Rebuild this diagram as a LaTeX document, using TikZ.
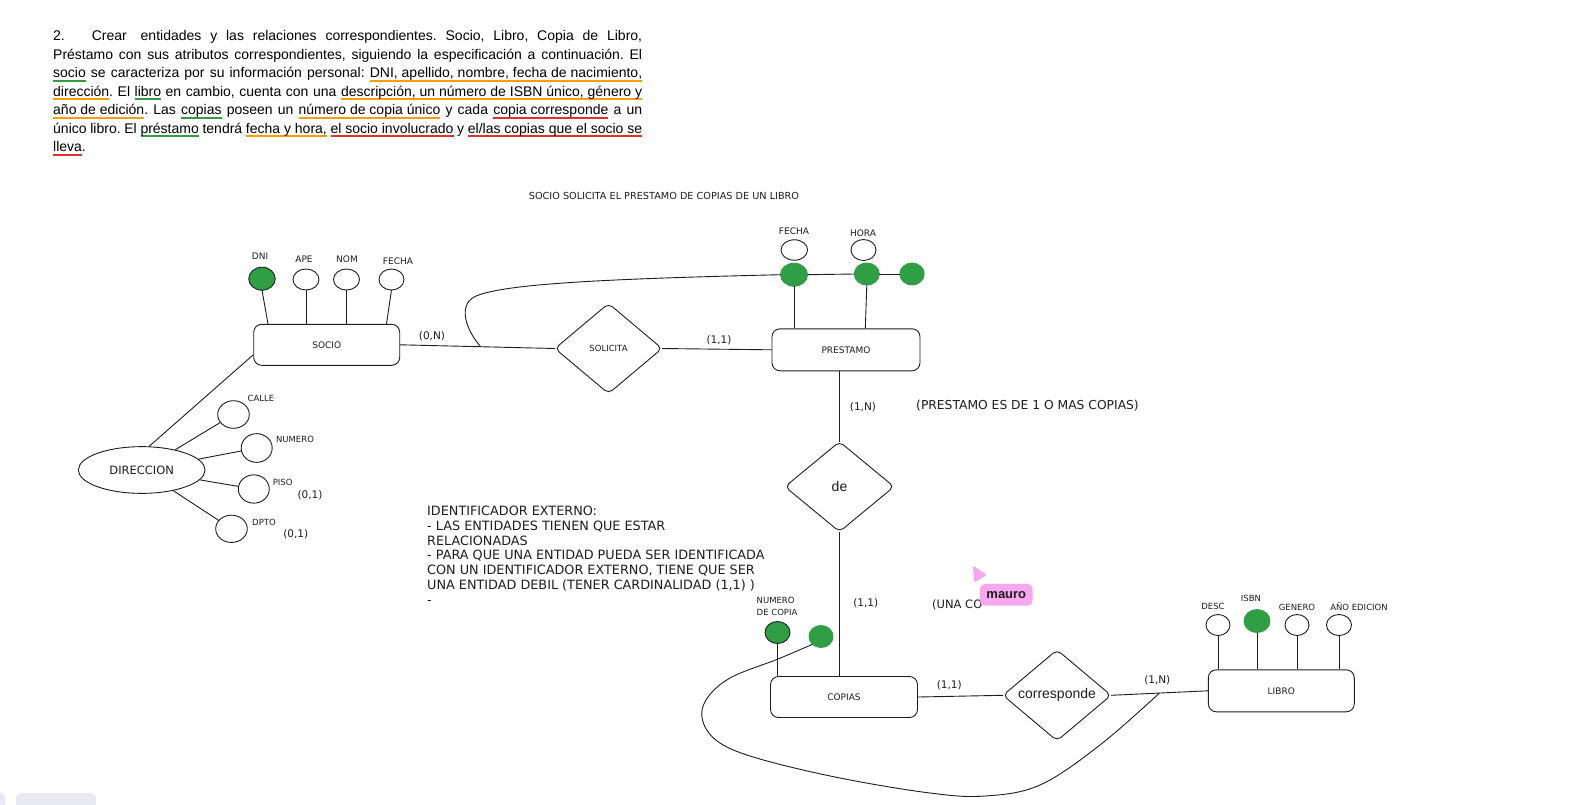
\documentclass[tikz,border=0pt]{standalone}
\usepackage{fontspec}
\setmainfont{Liberation Sans}
\newfontfamily\handf{DejaVu Sans}
\usetikzlibrary{shapes.geometric,calc}
\definecolor{ink}{RGB}{30,30,30}
\definecolor{xgreen}{RGB}{47,158,68}
\definecolor{xorange}{RGB}{245,159,0}
\definecolor{xred}{RGB}{224,49,49}
\definecolor{xpink}{RGB}{247,166,240}
\definecolor{uigray}{RGB}{233,233,243}
\newsavebox\ulbx
\newcommand\hlu[2]{\sbox\ulbx{#2}\rlap{\color{#1}\rule[-4.3pt]{\wd\ulbx}{2pt}}\usebox\ulbx}
\frenchspacing
\tikzset{
  pline/.style={anchor=base west, inner sep=0pt, font=\fontsize{14}{18.5}\selectfont, text=black},
  hand/.style={font=\handf\fontsize{#1}{#1}\selectfont, text=ink, inner sep=0pt},
  ln/.style={draw=ink, line width=0.9pt},
  ent/.style={draw=ink, line width=0.9pt, rounded corners=8pt, minimum width=146pt, minimum height=41pt, inner sep=0pt, font=\handf\fontsize{9}{9}\selectfont, text=ink},
  rel/.style={draw=ink, line width=0.9pt, diamond, rounded corners=5pt, minimum width=108pt, minimum height=89pt, inner sep=0pt, outer sep=0pt},
  attr/.style={draw=ink, line width=0.9pt, ellipse, minimum width=25pt, minimum height=21pt, inner sep=0pt, outer sep=0pt},
  keyattr/.style={attr, fill=xgreen, draw=xgreen},
  card/.style={hand=10.5},
}
\begin{document}
\begin{tikzpicture}[x=1pt,y=-1pt]
\fill[white] (0,0) rectangle (1572,804);
\useasboundingbox (0,0) rectangle (1572,804);

% paragraph
\node[pline] (l1) at (53,40.5) {\makebox[589pt][s]{2.\hspace{27pt}Crear\hspace{5pt} entidades y las relaciones correspondientes. Socio, Libro, Copia de Libro,}};
\node[pline] (l2) at (53,59) {\makebox[589pt][s]{Préstamo con sus atributos correspondientes, siguiendo la especificación a continuación. El}};
\node[pline] (l3) at (53,77.5) {\makebox[589pt][s]{\hlu{xgreen}{socio} se caracteriza por su información personal: \hlu{xorange}{DNI, apellido, nombre, fecha de nacimiento,}}};
\node[pline] (l4) at (53,96) {\makebox[589pt][s]{\hlu{xorange}{dirección}. El \hlu{xgreen}{libro} en cambio, cuenta con una \hlu{xorange}{descripción, un número de ISBN único, género y}}};
\node[pline] (l5) at (53,114.5) {\makebox[589pt][s]{\hlu{xorange}{año de edición}. Las \hlu{xgreen}{copias} poseen un \hlu{xorange}{número de copia único} y cada \hlu{xred}{copia corresponde} a un}};
\node[pline] (l6) at (53,133) {\makebox[589pt][s]{único libro. El \hlu{xgreen}{préstamo} tendrá \hlu{xorange}{fecha y hora,} \hlu{xred}{el socio involucrado} y \hlu{xred}{el/las copias que el socio se}}};
\node[pline] (l7) at (53,151.5) {\hlu{xred}{lleva}.};

% title
\node[hand=9.7] (title) at (664,196) {SOCIO SOLICITA EL PRESTAMO DE COPIAS DE UN LIBRO};

% entities
\node[ent] (socio) at (326.7,344.8) {SOCIO};
\node[ent, minimum width=148pt, minimum height=42pt] (prestamo) at (846,349.8) {PRESTAMO};
\node[ent, minimum width=147pt] (copias) at (844,697) {COPIAS};
\node[ent, minimum height=42pt] (libro) at (1281.3,690.8) {LIBRO};

% relationships
\node[rel, minimum width=107pt, minimum height=90pt, font=\handf\fontsize{8.5}{8.5}\selectfont, text=ink] (solicita) at (608.5,348.5) {SOLICITA};
\node[rel, minimum width=109pt, minimum height=90pt, font=\fontsize{14}{14}\selectfont, text=ink] (de) at (839.5,486.7) {de};
\node[rel, minimum width=108pt, minimum height=89pt, font=\fontsize{14}{14}\selectfont, text=ink] (corresponde) at (1057,695.3) {corresponde};

% socio attributes
\node[keyattr, draw=ink, minimum width=26.5pt, minimum height=23pt] (dni) at (262,278.7) {};
\node[attr, minimum width=26pt] (ape) at (306,279.5) {};
\node[attr, minimum width=26pt] (nom) at (346.5,279.5) {};
\node[attr, minimum width=25pt] (fe1) at (391.5,279.5) {};
\node[hand=9] (ldni) at (260,256) {DNI};
\node[hand=9] (lape) at (304,259.5) {APE};
\node[hand=9] (lnom) at (347,259.5) {NOM};
\node[hand=9] (lfe1) at (398,261) {FECHA};
\draw[ln] (dni.south) -- ([xshift=6pt]dni.south |- socio.north);
\draw[ln] (ape.south) -- (ape.south |- socio.north);
\draw[ln] (nom.south) -- (nom.south |- socio.north);
\draw[ln] (fe1.south) -- ([xshift=-5pt]fe1.south |- socio.north);

% direccion
\node[draw=ink, line width=0.9pt, ellipse, minimum width=126.7pt, minimum height=46.7pt, inner sep=0pt, font=\handf\fontsize{11.5}{11.5}\selectfont, text=ink] (dir) at (141.7,470) {DIRECCION};
\node[attr, minimum width=31.6pt, minimum height=27.6pt] (calle) at (233.5,414.5) {};
\node[attr, minimum width=31pt, minimum height=28.7pt] (numero) at (256.7,448) {};
\node[attr, minimum width=31pt, minimum height=28.3pt] (piso) at (253.8,489) {};
\node[attr, minimum width=31.6pt, minimum height=27.3pt] (dpto) at (231.5,528.8) {};
\node[hand=8.5] (lcalle) at (261,398.3) {CALLE};
\node[hand=8.5] (lnumero) at (295,439.3) {NUMERO};
\node[hand=8.5] (lpiso) at (282.7,482.7) {PISO};
\node[hand=8.5] (ldpto) at (264,522.7) {DPTO};
\node[card] (cpiso) at (310,495) {(0,1)};
\node[card] (cdpto) at (295.7,534) {(0,1)};
\draw[ln] ([yshift=-10pt]socio.west) -- ([xshift=7.6pt]dir.north);
\draw[ln] (dir) -- (calle);
\draw[ln] (dir) -- (numero);
\draw[ln] (dir) -- (piso);
\draw[ln] (dir) -- (dpto);

% socio - solicita - prestamo
\draw[ln] (socio.east) -- (solicita.west);
\draw[ln] (solicita.east) -- (prestamo.west);
\node[card] (c0n) at (432,336.7) {(0,N)};
\node[card] (c11a) at (719,340.7) {(1,1)};
\coordinate (j1) at ($(socio.east)!0.52!(solicita.west)$);

% prestamo attributes
\node[attr, minimum width=26.6pt, minimum height=20.5pt] (fechaw) at (794.3,250) {};
\node[keyattr, minimum width=27pt, minimum height=23pt] (fechag) at (794,274.7) {};
\node[attr, minimum width=25pt, minimum height=21pt] (horaw) at (863.5,250) {};
\node[keyattr, minimum width=25pt, minimum height=22pt] (horag) at (866.8,274) {};
\node[keyattr, minimum width=24.3pt, minimum height=22pt] (g3) at (912,274) {};
\node[hand=9] (lfecha) at (794,231) {FECHA};
\node[hand=9] (lhora) at (863,233) {HORA};
\draw[ln] (fechag.east) -- (horag.west);
\draw[ln] (horag.east) -- (g3.west);
\draw[ln] (fechag.south) -- (fechag.south |- prestamo.north);
\draw[ln] (horag.south) -- ([xshift=-1.5pt]horag.south |- prestamo.north);
\draw[ln] (fechag.west) .. controls (600,279) and (500,284) .. (474,297) .. controls (458,306) and (466,330) .. (j1);

% prestamo - de - copias
\draw[ln] (de.north |- prestamo.south) -- (de.north);
\draw[ln] (de.south) -- (de.south |- copias.north);
\node[card] (c1n) at (863,407) {(1,N)};
\node[hand=12.3, anchor=west] (nota) at (916,405.5) {(PRESTAMO ES DE 1 O MAS COPIAS)};
\node[card] (c11b) at (865.7,602.7) {(1,1)};

% external identifier note
\node[hand=12.8, anchor=base west] (t1) at (427,515.5) {IDENTIFICADOR EXTERNO:};
\node[hand=12.8, anchor=base west] (t2) at (427,530.3) {- LAS ENTIDADES TIENEN QUE ESTAR};
\node[hand=12.8, anchor=base west] (t3) at (427,545.1) {RELACIONADAS};
\node[hand=12.8, anchor=base west] (t4) at (427,559.9) {- PARA QUE UNA ENTIDAD PUEDA SER IDENTIFICADA};
\node[hand=12.8, anchor=base west] (t5) at (427,574.7) {CON UN IDENTIFICADOR EXTERNO, TIENE QUE SER};
\node[hand=12.8, anchor=base west] (t6) at (427,589.5) {UNA ENTIDAD DEBIL (TENER CARDINALIDAD (1,1) )};
\node[hand=12.8, anchor=base west] (t7) at (427,604.3) {-};

% copias attributes
\node[hand=8.5, anchor=west] (lnum1) at (756.5,600) {NUMERO};
\node[hand=8.5, anchor=west] (lnum2) at (756.5,612.3) {DE COPIA};
\node[keyattr, draw=ink, minimum width=25pt, minimum height=22pt] (n1) at (777.5,632.5) {};
\node[keyattr, minimum width=24pt, minimum height=22pt] (n2) at (821,636.5) {};
\draw[ln] (n1.south) -- (n1.south |- copias.north);

% copias - corresponde - libro
\draw[ln] (copias.east) -- (corresponde.west);
\draw[ln] (corresponde.east) -- (libro.west);
\node[card] (c11c) at (949.3,685) {(1,1)};
\node[card] (c1nb) at (1157.3,680) {(1,N)};
\coordinate (j2) at ($(corresponde.east)!0.5!(libro.west)$);
\coordinate (c0) at (n2.south west);
\draw[ln] plot[smooth, tension=0.6] coordinates {(c0) (778,659) (730,678) (706,700) (703,722) (720,743) (760,759) (840,778) (930,793) (985,796) (1040,785) (1100,745) (j2)};

% libro attributes
\node[attr, minimum width=24pt, minimum height=21pt] (desc) at (1218,625) {};
\node[keyattr, minimum width=26pt, minimum height=23pt] (isbn) at (1257,621) {};
\node[attr, minimum width=24pt, minimum height=21pt] (gen) at (1297,625) {};
\node[attr, minimum width=25pt, minimum height=21pt] (ano) at (1339,625) {};
\node[hand=8.5] (ldesc) at (1213,606.7) {DESC};
\node[hand=8.5] (lisbn) at (1251,598.3) {ISBN};
\node[hand=8.5] (lgen) at (1297,607.3) {GENERO};
\node[hand=8.5] (lano) at (1359,606.7) {AÑO EDICION};
\draw[ln] (desc.south) -- (desc.south |- libro.north);
\draw[ln] (isbn.south) -- (isbn.south |- libro.north);
\draw[ln] (gen.south) -- (gen.south |- libro.north);
\draw[ln] (ano.south) -- (ano.south |- libro.north);

% partially hidden note and collaborator cursor
\node[hand=11.5, anchor=west] (una) at (932,605) {(UNA CO};
\fill[xpink, rounded corners=1.5pt] (973,565.5) -- (987,575) -- (974,582.5) -- cycle;
\node[fill=xpink, rounded corners=5pt, minimum width=52.7pt, minimum height=21.7pt, inner sep=0pt, font=\bfseries\fontsize{13}{13}\selectfont, text=ink] (mauro) at (1006.3,594.8) {mauro};

% UI chrome at the bottom edge
\fill[uigray, rounded corners=6pt] (16,793) rectangle (96,815);
\fill[uigray, rounded corners=4pt] (-10,793) rectangle (5,815);
\end{tikzpicture}
\end{document}
